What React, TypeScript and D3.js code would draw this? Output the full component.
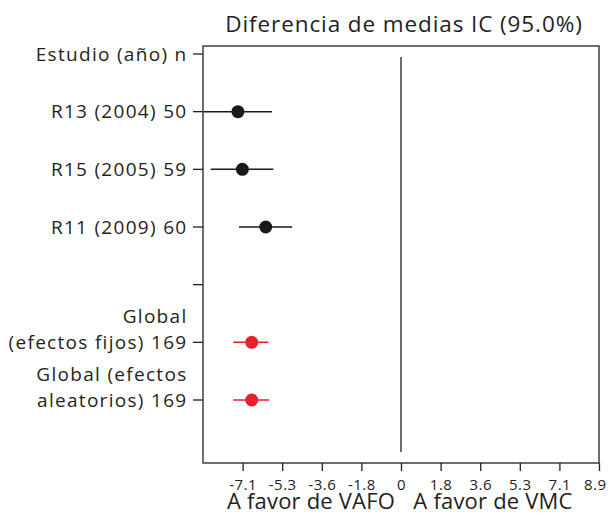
import React, { useEffect, useRef } from 'react';
import * as d3 from 'd3';

// etiquetas de cada fila (de arriba a abajo)
const rowLabels: string[][] = [
    ['Estudio (año) n'],
    ['R13 (2004) 50'],
    ['R15 (2005) 59'],
    ['R11 (2009) 60'],
    [''],
    ['Global', '(efectos fijos) 169'],
    ['Global (efectos', 'aleatorios) 169'],
];
// estimaciones: fila, media, límite inferior, superior
const studyRows = [1, 2, 3];
const studyMean = [-7.33, -7.13, -6.08];
const studyLow = [-8.86, -8.55, -7.28];
const studyHigh = [-5.80, -5.74, -4.89];
const globalRows = [5, 6];
const globalMean = [-6.71, -6.71];
const globalLow = [-7.54, -7.54];
const globalHigh = [-5.96, -5.93];
const xTicks = [-7.12, -5.34, -3.56, -1.78, 0, 1.78, 3.56, 5.34, 7.12, 8.9];
const xTickLabels = ['-7.1', '-5.3', '-3.6', '-1.8', '0', '1.8', '3.6', '5.3', '7.1', '8.9'];
const xDomain = [-8.9, 8.9];
const title = 'Diferencia de medias IC (95.0%)';
const favorLeft = 'A favor de VAFO';
const favorRight = 'A favor de VMC';

const W = 608, H = 518;
const font = '"Open Sans", sans-serif';
const ink = '#231f20';

export default function App() {
    const ref = useRef<SVGSVGElement>(null);

    useEffect(() => {
        const svg = d3.select(ref.current);
        svg.selectAll('*').remove();

        const box = { left: 203, right: 599, top: 46, bottom: 463 };
        const x = d3.scaleLinear().domain(xDomain).range([box.left, box.right]);
        const y = d3.scaleLinear().domain([0, 6]).range([54, 400]);

        // caja
        svg.append('rect')
            .attr('x', box.left).attr('y', box.top)
            .attr('width', box.right - box.left).attr('height', box.bottom - box.top)
            .attr('fill', 'none').attr('stroke', ink).attr('stroke-width', 1.3);

        // linea del cero
        svg.append('line')
            .attr('x1', x(0)).attr('x2', x(0))
            .attr('y1', 57).attr('y2', 452)
            .attr('stroke', ink).attr('stroke-width', 1.3);

        // eje x
        const gx = svg.append('g')
            .attr('transform', `translate(0,${box.bottom})`)
            .call(d3.axisBottom(x).tickValues(xTicks).tickSize(8).tickPadding(0)
                .tickFormat((d, i) => xTickLabels[i]))
            .call(g => g.select('.domain').remove());
        gx.selectAll('line').attr('stroke', ink).attr('stroke-width', 1.3);
        gx.selectAll('text').attr('fill', ink).attr('font-family', font)
            .attr('font-size', 15).attr('letter-spacing', 0.5)
            .attr('dy', null).attr('y', 26.5);
        // la última etiqueta se ajusta al borde
        gx.selectAll<SVGTextElement, number>('text')
            .filter((d, i) => i === xTicks.length - 1)
            .attr('text-anchor', 'end').attr('dx', 7);

        svg.append('text').attr('x', 311).attr('y', 509).attr('text-anchor', 'middle')
            .attr('font-family', font).attr('font-size', 22).attr('letter-spacing', 0.2)
            .attr('fill', ink).text(favorLeft);
        svg.append('text').attr('x', 493).attr('y', 509).attr('text-anchor', 'middle')
            .attr('font-family', font).attr('font-size', 22).attr('letter-spacing', 0.2)
            .attr('fill', ink).text(favorRight);

        // eje y
        const gy = svg.append('g').attr('transform', `translate(${box.left},0)`);
        rowLabels.forEach((lines, i) => {
            gy.append('line').attr('x1', -10).attr('x2', 0)
                .attr('y1', y(i)).attr('y2', y(i))
                .attr('stroke', ink).attr('stroke-width', 1.3);
            lines.forEach((t, j) => {
                gy.append('text')
                    .attr('x', -15.5)
                    .attr('y', y(i) + 6.5 - (lines.length - 1 - j) * 26)
                    .attr('text-anchor', 'end')
                    .attr('font-family', font).attr('font-size', 19)
                    .attr('letter-spacing', 1.3)
                    .attr('fill', ink)
                    .text(t);
            });
        });

        // titulo
        svg.append('text').attr('x', 404).attr('y', 32).attr('text-anchor', 'middle')
            .attr('font-family', font).attr('font-size', 22.5).attr('letter-spacing', 0.9)
            .attr('fill', ink).text(title);

        // estudios
        const drawRows = (rows: number[], mean: number[], lo: number[], hi: number[], color: string) => {
            const g = svg.append('g');
            rows.forEach((r, i) => {
                g.append('line')
                    .attr('x1', x(lo[i])).attr('x2', x(hi[i]))
                    .attr('y1', y(r)).attr('y2', y(r))
                    .attr('stroke', color).attr('stroke-width', 1.5);
                g.append('circle')
                    .attr('cx', x(mean[i])).attr('cy', y(r)).attr('r', 6.5)
                    .attr('fill', color);
            });
        };
        drawRows(studyRows, studyMean, studyLow, studyHigh, '#1a1a1a');
        drawRows(globalRows, globalMean, globalLow, globalHigh, '#e8202a');
    }, []);

    return (
        <svg ref={ref} width={W} height={H}
            style={{ position: 'absolute', left: 0, top: 0, background: '#fff' }} />
    );
}
